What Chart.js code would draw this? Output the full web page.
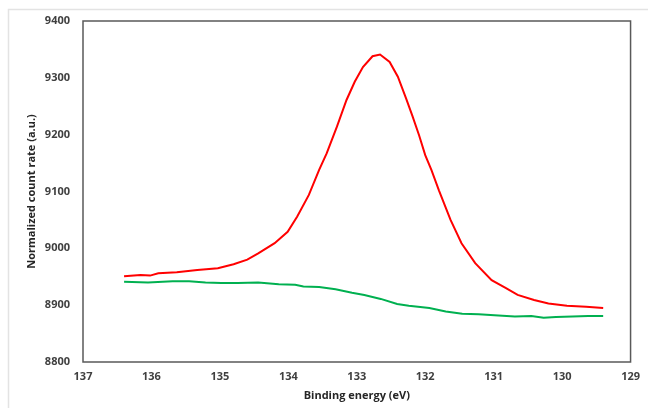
<!DOCTYPE html>
<html>
<head>
<meta charset="utf-8">
<script src="https://cdn.jsdelivr.net/npm/chart.js@4"></script>
<style>
  html, body { margin: 0; padding: 0; background: #fff; }
  #wrap { width: 648px; height: 408px; }
</style>
</head>
<body>
<div id="wrap"><canvas id="xpsChart" width="648" height="408"></canvas></div>
<script>
// binding energy (eV) and counts
const redEnergy = [136.40, 136.16, 136.02, 135.90, 135.63, 135.33, 135.03, 134.80, 134.60, 134.44,
    134.20, 134.01, 133.87, 133.70, 133.55, 133.44, 133.29, 133.15, 133.03, 132.91,
    132.77, 132.66, 132.52, 132.40, 132.28, 132.19, 132.09, 132.00, 131.91, 131.80,
    131.63, 131.47, 131.27, 131.03, 130.82, 130.65, 130.41, 130.20, 129.93, 129.65, 129.40];
const redCounts = [8951, 8953, 8952, 8956, 8958, 8962, 8965, 8972, 8980, 8991,
    9009, 9029, 9056, 9094, 9138, 9167, 9214, 9261, 9293, 9319,
    9338, 9341, 9328, 9302, 9264, 9234, 9199, 9164, 9138, 9102,
    9050, 9009, 8974, 8944, 8930, 8918, 8909, 8903, 8899, 8897, 8895];

const greenEnergy = [136.40, 136.05, 135.69, 135.45, 135.21, 134.98, 134.74, 134.44, 134.14, 133.90,
    133.78, 133.55, 133.31, 133.07, 132.89, 132.65, 132.41, 132.24, 131.94, 131.70,
    131.46, 131.22, 130.93, 130.69, 130.45, 130.27, 130.09, 129.85, 129.62, 129.40];
const greenCounts = [8941, 8940, 8942, 8942, 8940, 8939, 8939, 8940, 8937, 8936,
    8933, 8932, 8928, 8922, 8918, 8911, 8902, 8899, 8895, 8889,
    8885, 8884, 8882, 8880, 8881, 8878, 8879, 8880, 8881, 8881];

const xTicks = [137, 136, 135, 134, 133, 132, 131, 130, 129];
const yTicks = [8800, 8900, 9000, 9100, 9200, 9300, 9400];

function toPoints(xs, ys) {
    return xs.map((x, i) => ({ x: x, y: ys[i] }));
}

// outer frame + plot border
const frames = {
    id: 'frames',
    beforeDraw(chart) {
        const ctx = chart.ctx;
        ctx.save();
        ctx.strokeStyle = '#e3e3e3';
        ctx.lineWidth = 1.5;
        ctx.strokeRect(8.5, 9.5, 700, 500);
        ctx.restore();
    },
    beforeDatasetsDraw(chart) {
        const a = chart.chartArea;
        const ctx = chart.ctx;
        ctx.save();
        ctx.strokeStyle = '#595959';
        ctx.lineWidth = 1.5;
        ctx.strokeRect(a.left, a.top, a.right - a.left, a.bottom - a.top);
        ctx.restore();
    }
};

const tickFont = { family: 'Open Sans', size: 11, weight: 'bold' };
const titleFont = { family: 'Open Sans', size: 11, weight: 'bold' };

const ctx = document.getElementById('xpsChart').getContext('2d');
const xpsChart = new Chart(ctx, {
    type: 'scatter',
    data: {
        datasets: [{
            label: 'Spectrum',
            data: toPoints(redEnergy, redCounts),
            showLine: true,
            borderColor: '#ff0000',
            borderWidth: 2,
            pointRadius: 0,
            tension: 0
        }, {
            label: 'Background',
            data: toPoints(greenEnergy, greenCounts),
            showLine: true,
            borderColor: '#00b050',
            borderWidth: 2,
            pointRadius: 0,
            tension: 0
        }]
    },
    plugins: [frames],
    options: {
        responsive: false,
        animation: false,
        layout: { padding: { left: 0, top: 21, right: 11, bottom: 0 } },
        plugins: {
            legend: { display: false },
            tooltip: { enabled: false }
        },
        scales: {
            x: {
                type: 'linear',
                reverse: true,
                min: 129,
                max: 137,
                afterBuildTicks: (axis) => { axis.ticks = xTicks.map(v => ({ value: v })); },
                afterFit: (axis) => { axis.height = 46; },
                grid: { display: false, drawTicks: false },
                border: { display: false },
                ticks: { color: '#404040', font: tickFont, padding: 8, maxRotation: 0,
                         callback: (v) => String(v) },
                title: {
                    display: true,
                    text: 'Binding energy (eV)',
                    color: '#262626',
                    font: titleFont,
                    padding: { top: 0, bottom: 6 }
                }
            },
            y: {
                min: 8800,
                max: 9400,
                afterBuildTicks: (axis) => { axis.ticks = yTicks.map(v => ({ value: v })); },
                afterFit: (axis) => { axis.width = 83; },
                grid: { display: false, drawTicks: false },
                border: { display: false },
                ticks: { color: '#404040', font: tickFont, padding: 13,
                         callback: (v) => String(v) },
                title: {
                    display: true,
                    text: 'Normalized count rate (a.u.)',
                    color: '#262626',
                    font: titleFont,
                    padding: { top: 25, bottom: 0 }
                }
            }
        }
    }
});
</script>
</body>
</html>
